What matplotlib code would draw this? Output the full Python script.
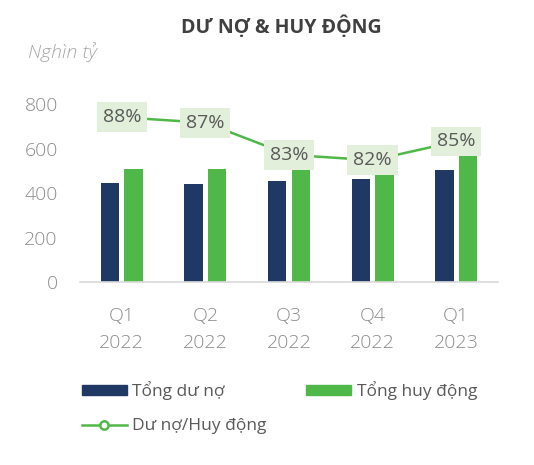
import numpy as np
import matplotlib.pyplot as plt
from matplotlib.lines import Line2D
from matplotlib.patches import Patch

# data (nghìn tỷ)
quarters = ["Q1\n2022", "Q2\n2022", "Q3\n2022", "Q4\n2022", "Q1\n2023"]
du_no = [443, 440, 454, 463, 503]
huy_dong = [506, 506, 514, 480, 575]
ratio = [87.9, 87.2, 83.1, 82.4, 84.8]
ratio_labels = ["88%", "87%", "83%", "82%", "85%"]

NAVY = "#203864"
GREEN = "#50B848"
GRAY = "#8C8C8C"

plt.rcParams["font.family"] = ["Open Sans", "DejaVu Sans"]

fig = plt.figure(figsize=(5.34, 4.65), dpi=100)
ax = fig.add_axes([0.1498, 0.3935, 0.7828, 0.3828])

x = np.arange(len(quarters))
w = 0.22
ax.bar(x - 0.142, du_no, w, color=NAVY, zorder=2)
ax.bar(x + 0.142, huy_dong, w, color=GREEN, zorder=2)

ax.set_xlim(-0.5, 4.5)
ax.set_ylim(0, 800)
ax.set_yticks([0, 200, 400, 600, 800])
ax.set_xticks(x)
ax.set_xticklabels(quarters, linespacing=1.65)
ax.tick_params(axis="both", length=0, labelsize=14, colors=GRAY, labelcolor=GRAY)
ax.tick_params(axis="y", pad=16)
ax.tick_params(axis="x", pad=18)
for lbl in ax.get_yticklabels() + ax.get_xticklabels():
    lbl.set_fontweight("light")
for s in ["top", "right", "left"]:
    ax.spines[s].set_visible(False)
ax.spines["bottom"].set_color("#D9D9D9")
ax.spines["bottom"].set_linewidth(1.2)

# ratio line on a secondary axis
ax2 = ax.twinx()
ax2.set_ylim(66.8, 89.6)
ax2.axis("off")
ax2.plot(x, ratio, color=GREEN, lw=1.8, zorder=3)
for xi, r, t in zip(x, ratio, ratio_labels):
    ax2.text(xi, r, t, ha="center", va="center", fontsize=14, color="#595959",
             bbox=dict(boxstyle="square,pad=0.3", fc="#E2EFDA", ec="none"), zorder=4)

fig.text(0.527, 0.942, "DƯ NỢ & HUY ĐỘNG", ha="center", va="center",
         fontsize=14, fontweight="bold", color="#404040")
fig.text(0.052, 0.888, "Nghìn tỷ", ha="left", va="center", fontsize=14,
         style="italic", fontweight="light", color="#A6A6A6")

handles = [
    Patch(color=NAVY, label="Tổng dư nợ"),
    Line2D([], [], color=GREEN, lw=1.8, marker="o", markersize=6,
           markerfacecolor="white", markeredgecolor=GREEN, markeredgewidth=1.8,
           label="Dư nợ/Huy động"),
    Patch(color=GREEN, label="Tổng huy động"),
]
leg = fig.legend(handles=handles, ncol=2, loc="upper left",
                 bbox_to_anchor=(0.14, 0.195), frameon=False, fontsize=12.5,
                 handlelength=2.6, handleheight=0.45, handletextpad=0.3,
                 columnspacing=2.3, labelspacing=1.05, borderaxespad=0)
for t in leg.get_texts():
    t.set_color("#595959")

fig.savefig("out.png", dpi=100)
